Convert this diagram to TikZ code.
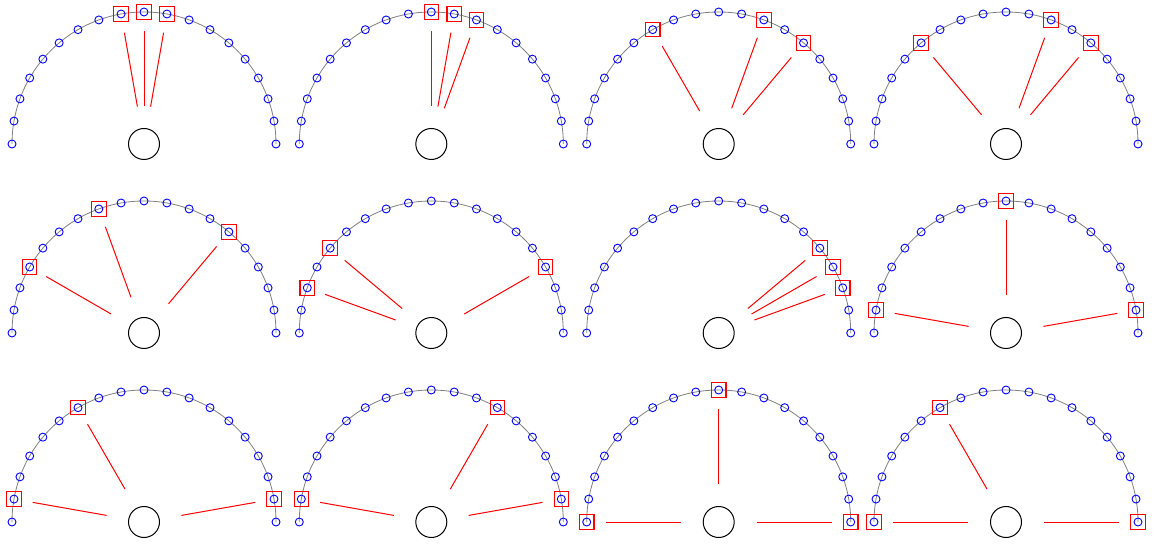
\documentclass[tikz,border=0pt]{standalone}
\begin{document}
\begin{tikzpicture}[x=1pt,y=1pt,
  arcline/.style={draw=gray, line width=0.8pt},
  marker/.style={circle, draw=blue, line width=0.9pt, minimum size=8pt, inner sep=0pt},
  selbox/.style={rectangle, draw=red, line width=1.1pt, minimum size=14.5pt, inner sep=0pt},
  hub/.style={circle, draw=black, line width=1pt, minimum size=31pt, inner sep=0pt},
  ray/.style={draw=red, line width=1pt, shorten <=38pt, shorten >=19pt}]
\fill[white] (0,0) rectangle (1155,543);
\useasboundingbox (0,0) rectangle (1155,543);
\foreach \kk/\px/\py/\ua/\ub/\uc in {
  1/144/399/8/9/10, 2/431.3/399/9/10/11, 3/718.7/399/6/11/13, 4/1006/399/5/11/13,
  5/144/210/7/13/3, 6/431.3/210/4/2/15, 7/718.7/210/14/15/16, 8/1006/210/9/1/17,
  9/144/21/6/1/17, 10/431.3/21/12/1/17, 11/718.7/21/9/0/18, 12/1006/21/6/0/18}{
  \begin{scope}[shift={(\px,\py)}]
    \draw[arcline] (-132,0) arc[start angle=180, end angle=0, radius=132];
    \foreach \ii in {0,...,18}{
      \node[marker] (p\kk-\ii) at ({180-10*\ii}:132) {};
    }
    \node[hub] (h\kk) at (0,0) {};
  \end{scope}
  \foreach \sv in {\ua,\ub,\uc}{
    \node[selbox] (q\kk-\sv) at (p\kk-\sv.center) {};
    \draw[ray] (h\kk.center) -- (q\kk-\sv.center);
  }
}
\end{tikzpicture}
\end{document}
